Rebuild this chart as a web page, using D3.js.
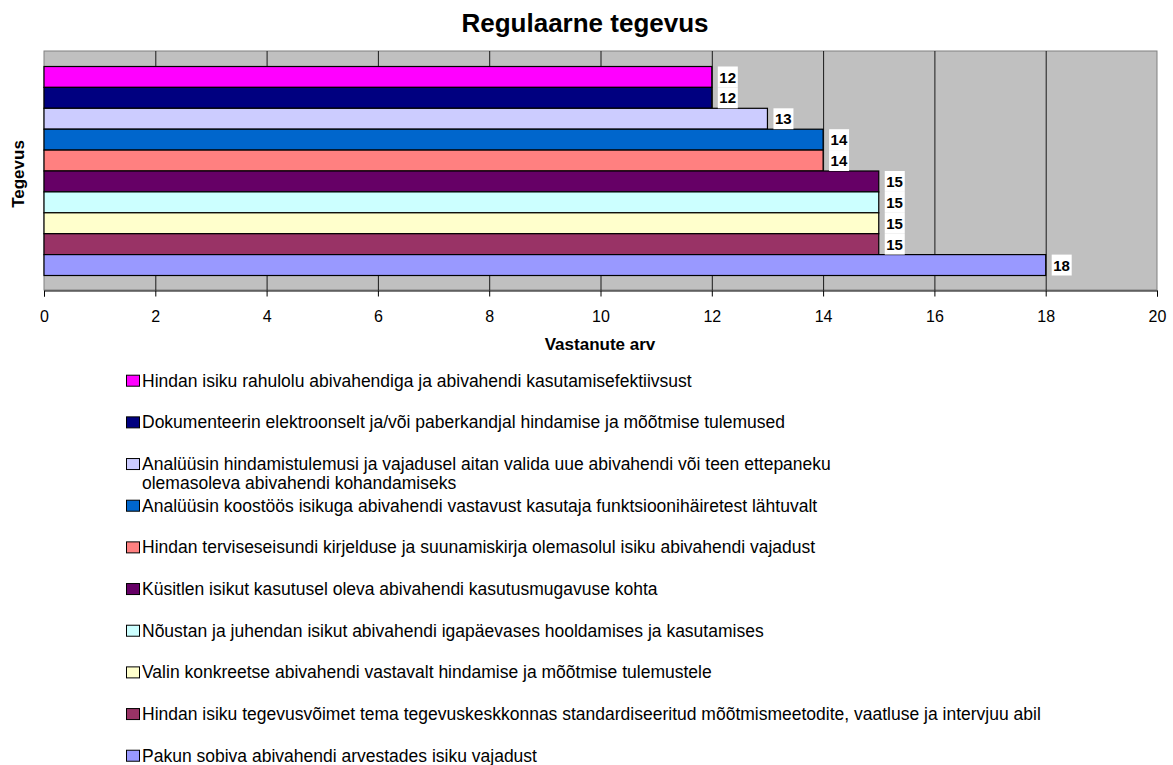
<!DOCTYPE html>
<html>
<head>
<meta charset="utf-8">
<script src="https://cdn.jsdelivr.net/npm/d3@7"></script>
<style>
  body { margin: 0; background: #fff; }
  text { font-family: "Liberation Sans", Arial, sans-serif; }
</style>
</head>
<body>
<script>
// data
var activities = [
    "Hindan isiku rahulolu abivahendiga ja abivahendi kasutamisefektiivsust",
    "Dokumenteerin elektroonselt ja/või paberkandjal hindamise ja mõõtmise tulemused",
    "Analüüsin hindamistulemusi  ja vajadusel aitan valida uue abivahendi või teen ettepaneku\nolemasoleva abivahendi kohandamiseks",
    "Analüüsin koostöös isikuga abivahendi vastavust kasutaja funktsioonihäiretest lähtuvalt",
    "Hindan terviseseisundi kirjelduse ja suunamiskirja olemasolul isiku abivahendi vajadust",
    "Küsitlen isikut kasutusel oleva abivahendi kasutusmugavuse kohta",
    "Nõustan ja juhendan isikut abivahendi igapäevases hooldamises ja kasutamises",
    "Valin konkreetse abivahendi vastavalt hindamise ja mõõtmise tulemustele",
    "Hindan isiku tegevusvõimet tema tegevuskeskkonnas standardiseeritud mõõtmismeetodite, vaatluse ja intervjuu abil",
    "Pakun sobiva abivahendi arvestades isiku vajadust"
];
var counts = [12, 12, 13, 14, 14, 15, 15, 15, 15, 18];
var barColors = ["#FF00FF", "#000080", "#CCCCFF", "#0066CC", "#FF8080",
                 "#660066", "#CCFFFF", "#FFFFCC", "#993366", "#9999FF"];
var xTicks = [0, 2, 4, 6, 8, 10, 12, 14, 16, 18, 20];

var W = 1173, H = 765;
var plot = { left: 44, right: 1157, top: 51, bottom: 290 };

var svg = d3.select("body").append("svg")
    .attr("width", W)
    .attr("height", H);

var x = d3.scaleLinear().domain([0, 20]).range([plot.left, plot.right]);
var y = d3.scaleBand().domain(d3.range(activities.length)).range([66.5, 275.5]);

// title
svg.append("text")
    .attr("x", 585).attr("y", 32)
    .attr("text-anchor", "middle")
    .style("font-size", "26px").style("font-weight", "bold")
    .text("Regulaarne tegevus");

// plot background
svg.append("rect")
    .attr("x", plot.left).attr("y", plot.top)
    .attr("width", plot.right - plot.left)
    .attr("height", plot.bottom - plot.top)
    .attr("fill", "#C0C0C0")
    .attr("stroke", "#808080");

// vertical gridlines
svg.append("g").selectAll("line")
    .data(xTicks.slice(1, -1))
    .enter().append("line")
    .attr("x1", d => x(d) + 0.5).attr("x2", d => x(d) + 0.5)
    .attr("y1", plot.top).attr("y2", plot.bottom)
    .attr("stroke", "#1a1a1a");

// x axis
var xAxis = svg.append("g")
    .attr("transform", "translate(0," + (plot.bottom + 0.5) + ")")
    .call(d3.axisBottom(x).tickValues(xTicks).tickSizeOuter(0).tickSize(6).tickPadding(14));
xAxis.select(".domain").attr("stroke", "#000");
xAxis.selectAll(".tick line").attr("stroke", "#000");
xAxis.selectAll(".tick text")
    .style("font-family", "Liberation Sans, Arial, sans-serif")
    .style("font-size", "16px").attr("fill", "#000");

// bars
svg.append("g").selectAll("rect")
    .data(counts)
    .enter().append("rect")
    .attr("x", x(0))
    .attr("y", (d, i) => y(i))
    .attr("width", d => x(d) - x(0))
    .attr("height", y.bandwidth())
    .attr("fill", (d, i) => barColors[i])
    .attr("stroke", "#000")
    .attr("stroke-width", 1.2);

// value labels
var labels = svg.append("g").selectAll("g")
    .data(counts)
    .enter().append("g")
    .attr("transform", (d, i) => "translate(" + (x(d) + 6) + "," + y(i) + ")");
labels.append("rect")
    .attr("width", 20)
    .attr("height", y.bandwidth())
    .attr("fill", "#fff");
labels.append("text")
    .attr("x", 1.5).attr("y", 16)
    .style("font-size", "15px").style("font-weight", "bold")
    .text(d => d);

// axis titles
svg.append("text")
    .attr("x", 600).attr("y", 350)
    .attr("text-anchor", "middle")
    .style("font-size", "17px").style("font-weight", "bold")
    .text("Vastanute arv");

svg.append("text")
    .attr("transform", "translate(23.5,174) rotate(-90)")
    .attr("text-anchor", "middle")
    .style("font-size", "17px").style("font-weight", "bold")
    .text("Tegevus");

// legend
var legend = svg.append("g").attr("transform", "translate(126,386.7)");
var item = legend.selectAll("g")
    .data(activities)
    .enter().append("g")
    .attr("transform", (d, i) => "translate(0," + (i * 41.67) + ")");
item.append("rect")
    .attr("x", 0.5).attr("y", -11.5)
    .attr("width", 13).attr("height", 11)
    .attr("fill", (d, i) => barColors[i])
    .attr("stroke", "#000");
item.append("text")
    .attr("x", 16).attr("y", 0)
    .style("font-size", "17.5px")
    .selectAll("tspan")
    .data(d => d.split("\n"))
    .enter().append("tspan")
    .attr("x", 16)
    .attr("dy", (d, i) => i ? 19 : 0)
    .text(d => d);
</script>
</body>
</html>
